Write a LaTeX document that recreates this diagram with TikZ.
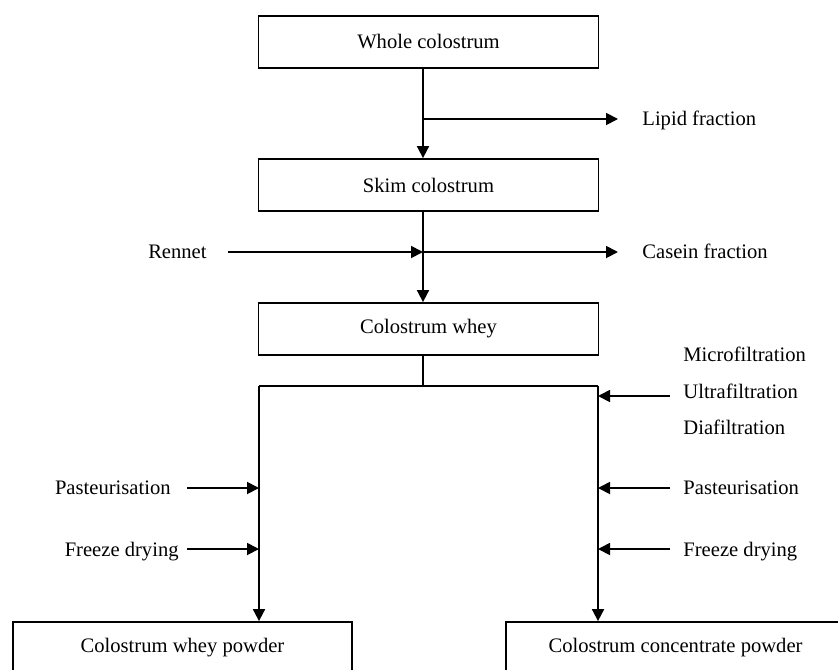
\documentclass[tikz,border=0pt]{standalone}
\usepackage{fontspec}
\setmainfont{Liberation Serif}
\usetikzlibrary{arrows.meta}
\begin{document}
\begin{tikzpicture}[x=0.5pt,y=-0.5pt,
  font=\fontsize{10.3pt}{12pt}\selectfont,
  box/.style={draw,line width=0.9pt,minimum width=170pt,minimum height=26pt,inner sep=0pt},
  lbl/.style={inner sep=0pt},
  ln/.style={line width=0.9pt},
  arr/.style={line width=0.9pt,-{Triangle[length=6pt,width=6pt]}}]
\useasboundingbox (0,0) rectangle (838,669);
% boxes
\node[box] (whole) at (428.5,42) {Whole colostrum};
\node[box] (skim) at (428.5,185) {Skim colostrum};
\node[box] (whey) at (428.5,329) {Colostrum whey};
\node[box,minimum width=169.5pt] (wpow) at (182.5,648) {Colostrum whey powder};
\node[box,minimum width=169.5pt] (cpow) at (675.5,648) {Colostrum concentrate powder};
% guide coordinates
\coordinate (spine) at (423,0);
\coordinate (lft) at (259,0);
\coordinate (rgt) at (598,0);
\coordinate (jl) at (423,119);
\coordinate (jc) at (423,252);
\coordinate (br) at (423,386);
\coordinate (lipE) at (618,119);
\coordinate (casE) at (618,252);
\coordinate (renS) at (228,252);
\coordinate (ufS) at (670,396);
\coordinate (p1S) at (187,488);
\coordinate (f1S) at (187,549);
\coordinate (p2S) at (670,488);
\coordinate (f2S) at (670,549);
% labels
\node[lbl,anchor=base west] (lip) at (642,125) {Lipid fraction};
\node[lbl,anchor=base west] (cas) at (642,258) {Casein fraction};
\node[lbl,anchor=base east] (ren) at (207,258) {Rennet};
\node[lbl,anchor=base west] (mf) at (683,361) {Microfiltration};
\node[lbl,anchor=base west] (uf) at (683,398) {Ultrafiltration};
\node[lbl,anchor=base west] (df) at (683,434) {Diafiltration};
\node[lbl,anchor=base east] (p1) at (171,494) {Pasteurisation};
\node[lbl,anchor=base east] (f1) at (179,556) {Freeze drying};
\node[lbl,anchor=base west] (p2) at (683,494) {Pasteurisation};
\node[lbl,anchor=base west] (f2) at (683,556) {Freeze drying};
% connectors
\draw[arr] (whole.south -| spine) -- (skim.north -| spine);
\draw[arr] (jl) -- (lipE);
\draw[arr] (skim.south -| spine) -- (whey.north -| spine);
\draw[arr] (renS) -- (jc);
\draw[arr] (jc) -- (casE);
\draw[ln] (whey.south -| spine) -- (br);
\draw[ln] (br -| lft) -- (br -| rgt);
\draw[arr] (br -| lft) -- (wpow.north -| lft);
\draw[arr] (br -| rgt) -- (cpow.north -| rgt);
\draw[arr] (ufS) -- (ufS -| rgt);
\draw[arr] (p1S) -- (p1S -| lft);
\draw[arr] (f1S) -- (f1S -| lft);
\draw[arr] (p2S) -- (p2S -| rgt);
\draw[arr] (f2S) -- (f2S -| rgt);
\end{tikzpicture}
\end{document}
